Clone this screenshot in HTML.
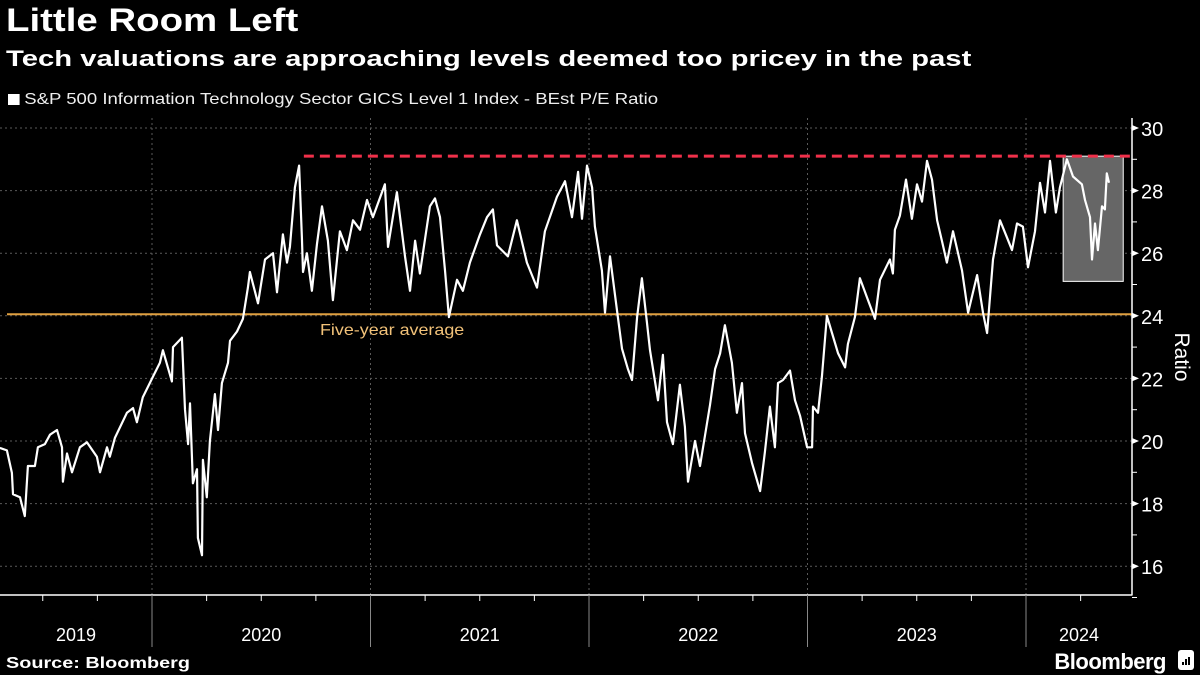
<!DOCTYPE html>
<html><head><meta charset="utf-8">
<style>
html,body{margin:0;padding:0;background:#000;}
body{width:1200px;height:675px;overflow:hidden;position:relative;font-family:"Liberation Sans",sans-serif;color:#fff;}
#title{position:absolute;left:6px;top:2px;font-size:32px;font-weight:bold;transform:scaleX(1.2);transform-origin:0 0;white-space:nowrap;}
#subtitle{position:absolute;left:6px;top:46px;font-size:22px;font-weight:bold;transform:scaleX(1.33);transform-origin:0 0;white-space:nowrap;}
#legend{position:absolute;left:8px;top:91px;font-size:16px;color:#eee;transform:scaleX(1.16);transform-origin:0 0;white-space:nowrap;}
#legend span.sw{display:inline-block;width:10px;height:11px;background:#fff;margin-right:4px;vertical-align:-1px;}
svg{position:absolute;left:0;top:0;}
</style></head><body>
<div id="title">Little Room Left</div>
<div id="subtitle">Tech valuations are approaching levels deemed too pricey in the past</div>
<div id="legend"><span class="sw"></span>S&amp;P 500 Information Technology Sector GICS Level 1 Index - BEst P/E Ratio</div>
<svg id="chart" width="1200" height="675"></svg>
<script>
const dates=[2019.304,2019.336,2019.359,2019.364,2019.396,2019.418,2019.432,2019.464,2019.478,2019.510,2019.533,2019.565,2019.588,2019.592,2019.611,2019.634,2019.670,2019.702,2019.748,2019.762,2019.794,2019.807,2019.830,2019.885,2019.913,2019.931,2019.958,2020.004,2020.036,2020.050,2020.091,2020.096,2020.137,2020.151,2020.165,2020.174,2020.187,2020.206,2020.210,2020.229,2020.233,2020.251,2020.265,2020.288,2020.302,2020.320,2020.348,2020.357,2020.389,2020.416,2020.439,2020.448,2020.485,2020.517,2020.554,2020.572,2020.599,2020.618,2020.631,2020.654,2020.673,2020.686,2020.691,2020.709,2020.732,2020.755,2020.778,2020.805,2020.828,2020.860,2020.892,2020.920,2020.952,2020.984,2021.011,2021.066,2021.080,2021.121,2021.158,2021.181,2021.204,2021.226,2021.272,2021.295,2021.318,2021.341,2021.359,2021.396,2021.423,2021.455,2021.501,2021.533,2021.560,2021.579,2021.629,2021.670,2021.716,2021.762,2021.798,2021.853,2021.890,2021.922,2021.950,2021.968,2021.991,2022.014,2022.027,2022.059,2022.073,2022.096,2022.133,2022.151,2022.178,2022.197,2022.220,2022.242,2022.265,2022.279,2022.316,2022.338,2022.357,2022.384,2022.416,2022.439,2022.453,2022.485,2022.508,2022.554,2022.577,2022.600,2022.622,2022.654,2022.677,2022.700,2022.714,2022.746,2022.783,2022.805,2022.828,2022.851,2022.865,2022.888,2022.920,2022.943,2022.966,2022.998,2023.021,2023.025,2023.048,2023.066,2023.089,2023.112,2023.140,2023.172,2023.185,2023.217,2023.240,2023.277,2023.309,2023.332,2023.377,2023.391,2023.400,2023.423,2023.451,2023.478,2023.501,2023.524,2023.547,2023.570,2023.593,2023.615,2023.638,2023.666,2023.707,2023.735,2023.776,2023.803,2023.822,2023.849,2023.881,2023.913,2023.936,2023.959,2023.986,2024.009,2024.041,2024.064,2024.087,2024.110,2024.137,2024.155,2024.187,2024.215,2024.256,2024.270,2024.293,2024.302,2024.316,2024.329,2024.348,2024.361,2024.370,2024.380];
const peRatio=[19.78,19.7,18.98,18.3,18.2,17.6,19.2,19.2,19.8,19.9,20.2,20.35,19.8,18.7,19.6,19.0,19.8,19.96,19.5,19.0,19.8,19.5,20.1,20.9,21.05,20.6,21.4,22.05,22.5,22.9,21.9,23.0,23.3,21.0,19.9,21.2,18.65,19.1,16.9,16.35,19.4,18.2,20.0,21.5,20.35,21.85,22.5,23.2,23.5,23.9,24.9,25.4,24.4,25.8,26.0,24.75,26.6,25.7,26.2,28.1,28.8,26.5,25.4,26.0,24.8,26.3,27.5,26.4,24.5,26.7,26.1,27.05,26.75,27.7,27.15,28.2,26.2,27.95,25.9,24.8,26.4,25.35,27.5,27.75,27.15,25.45,23.96,25.15,24.8,25.7,26.6,27.15,27.4,26.25,25.9,27.05,25.7,24.9,26.7,27.8,28.3,27.15,28.6,27.1,28.8,28.1,26.85,25.45,24.1,25.9,23.9,22.95,22.3,21.95,23.96,25.2,23.8,22.9,21.3,22.75,20.6,19.9,21.8,20.45,18.7,20.0,19.2,21.15,22.3,22.8,23.7,22.5,20.9,21.85,20.25,19.3,18.4,19.65,21.1,19.8,21.85,21.95,22.25,21.3,20.8,19.8,19.8,21.1,20.9,22.05,24.0,23.45,22.8,22.35,23.1,23.96,25.2,24.5,23.9,25.15,25.8,25.35,26.75,27.2,28.35,27.1,28.2,27.65,28.95,28.35,27.05,26.4,25.7,26.7,25.45,24.1,25.3,24.1,23.45,25.8,27.05,26.5,26.1,26.95,26.85,25.55,26.7,28.25,27.3,28.95,27.3,28.1,29.0,28.45,28.2,27.7,27.15,25.8,26.95,26.1,27.5,27.4,28.55,28.25];
const yTicks=[16,18,20,22,24,26,28,30];
const years=[2019,2020,2021,2022,2023,2024];
const avgLevel=24.05;
const peakLevel=29.1;
const highlightStart=2024.17, highlightEnd=2024.445, highlightLow=25.1, highlightHigh=29.1;
const peakLineStart=2020.695;

const NS='http://www.w3.org/2000/svg';
const svg=document.getElementById('chart');
const X0=152, YW=218.5;
const xs=t=>X0+(t-2020)*YW;
const ys=v=>128+(30-v)*31.3;
const AX=1132, AXB=595;
function mk(tag,attrs,parent){const e=document.createElementNS(NS,tag);for(const k in attrs)e.setAttribute(k,attrs[k]);(parent||svg).appendChild(e);return e;}

yTicks.forEach(v=>{
  const g=mk('line',{x1:0,x2:AX,y1:ys(v),y2:ys(v),stroke:'#5a5a5a','stroke-width':1,'stroke-dasharray':'2,3'});
  
  
});
years.slice(1).forEach(yr=>{
  const g=mk('line',{x1:xs(yr),x2:xs(yr),y1:118,y2:AXB,stroke:'#5a5a5a','stroke-width':1,'stroke-dasharray':'2,3'});
  
  
});
const hb=mk('rect',{x:xs(highlightStart),y:ys(highlightHigh),width:xs(highlightEnd)-xs(highlightStart),height:ys(highlightLow)-ys(highlightHigh),fill:'#666',stroke:'#fff','stroke-width':1});


const al=mk('line',{x1:7,x2:AX,y1:ys(avgLevel),y2:ys(avgLevel),stroke:'#e0a040','stroke-width':2});


const at=mk('text',{x:320,y:ys(avgLevel)+21,fill:'#f2c279','font-size':16,'font-family':'Liberation Sans, sans-serif',transform:'translate(320 0) scale(1.12 1) translate(-320 0)'});
at.textContent='Five-year average';


const pl=mk('line',{x1:xs(peakLineStart),x2:AX,y1:ys(peakLevel),y2:ys(peakLevel),stroke:'#f0304a','stroke-width':3,'stroke-dasharray':'10,6'});


let d='';
dates.forEach((t,i)=>{d+=(i?'L':'M')+xs(t).toFixed(1)+','+ys(peRatio[i]).toFixed(1);});
const sl=mk('path',{d:d,fill:'none',stroke:'#fff','stroke-width':2.2,'stroke-linejoin':'round'});


const ya=mk('line',{x1:AX,x2:AX,y1:118,y2:AXB+0.5,stroke:'#fff','stroke-width':1.5});


const xa=mk('line',{x1:0,x2:AX,y1:AXB,y2:AXB,stroke:'#fff','stroke-width':1.5});


for(let v=15;v<=30;v++){
  if(v%2===0){
    const tk=mk('path',{d:`M${AX},${ys(v)-3}L${AX+7},${ys(v)}L${AX},${ys(v)+3}Z`,fill:'#fff'});
    
    
  } else {
    const tk=mk('line',{x1:AX,x2:AX+5,y1:ys(v),y2:ys(v),stroke:'#fff','stroke-width':1});
    
    
  }
}
yTicks.forEach(v=>{
  const t=mk('text',{x:AX+9,y:ys(v)+8,fill:'#fff','font-size':20,'font-family':'Liberation Sans, sans-serif'});
  t.textContent=v;
  
  
});
const rt=mk('text',{x:1175,y:357,fill:'#fff','font-size':21,'font-family':'Liberation Sans, sans-serif','text-anchor':'middle',transform:'rotate(90 1175 357)'});
rt.textContent='Ratio';


for(let q=2019.25;q<2024.5;q+=0.25){
  const x=xs(q);
  if(x<0||x>AX)continue;
  const yr=Math.abs(q-Math.round(q))<0.01;
  const tk=mk('line',{x1:x,x2:x,y1:AXB,y2:yr?647:601,stroke:yr?'#888':'#fff','stroke-width':1});
  
  
}
years.forEach(yr=>{
  const a=Math.max(xs(yr),0), b=Math.min(xs(yr+1),AX);
  const t=mk('text',{x:(a+b)/2,y:641,fill:'#fff','font-size':18,'font-family':'Liberation Sans, sans-serif','text-anchor':'middle'});
  t.textContent=yr;
  
  
});
const src=mk('text',{x:6,y:668,fill:'#fff','font-size':16,'font-weight':'bold','font-family':'Liberation Sans, sans-serif',transform:'translate(6 0) scale(1.24 1) translate(-6 0)'});
src.textContent='Source: Bloomberg';


const bl=mk('text',{x:1166,y:669,fill:'#fff','font-size':22,'font-weight':'bold','font-family':'Liberation Sans, sans-serif','text-anchor':'end','letter-spacing':'-0.5'});
bl.textContent='Bloomberg';


const ic=mk('rect',{x:1178,y:650,width:16,height:20,rx:3,fill:'#fff'});


[[1182,662,3],[1185,659,6],[1188,657,8]].forEach(b=>{
  const r=mk('rect',{x:b[0],y:b[1],width:2,height:b[2],fill:'#000'});
  
  
});
</script>
</body></html>
